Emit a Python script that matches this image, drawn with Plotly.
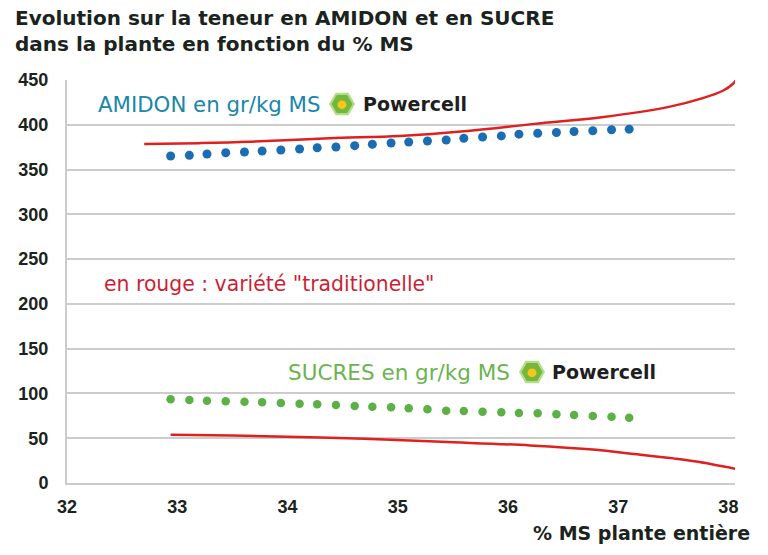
import math
import plotly.graph_objects as go

# ---------------- data ----------------
ms_dots = [32.94, 33.11, 33.27, 33.44, 33.61, 33.77, 33.94, 34.11, 34.27, 34.44,
           34.61, 34.77, 34.94, 35.10, 35.27, 35.44, 35.60, 35.77, 35.94, 36.10,
           36.27, 36.44, 36.60, 36.77, 36.94, 37.10]
amidon_powercell = [365.1, 365.9, 367.4, 368.8, 369.6, 370.7, 371.8, 372.9, 374.4, 375.2,
                    376.7, 378.2, 379.6, 380.8, 381.9, 383.0, 384.9, 386.3, 387.6, 389.5,
                    390.6, 391.4, 392.5, 393.3, 394.4, 395.1]
sucres_powercell = [93.5, 92.7, 91.9, 91.2, 90.8, 90.1, 89.3, 88.5, 87.9, 87.1,
                    86.0, 85.2, 84.5, 83.4, 82.3, 80.7, 80.4, 79.6, 78.9, 78.2,
                    77.8, 76.7, 75.9, 74.8, 74.0, 72.9]

ms_amidon_trad = [32.70, 33.20, 33.66, 34.38, 35.02, 35.63, 36.24, 36.85, 37.46, 37.76, 37.95, 38.04, 38.07]
amidon_trad = [378.5, 379.5, 381.0, 385.0, 387.5, 393.0, 401.0, 408.5, 420.0, 429.5, 438.0, 445.5, 450.0]

ms_sucre_trad = [32.94, 33.50, 34.10, 34.70, 35.40, 36.20, 36.80, 37.10, 37.50, 37.71, 38.06]
sucre_trad = [54.0, 53.0, 51.5, 49.5, 46.0, 42.0, 37.0, 33.0, 27.5, 24.0, 16.0]

x_ticks = [32, 33, 34, 35, 36, 37, 38]
y_ticks = [0, 50, 100, 150, 200, 250, 300, 350, 400, 450]

title_lines = ["Evolution sur la teneur en AMIDON et en SUCRE",
               "dans la plante en fonction du % MS"]
x_title = "% MS plante entière"
label_amidon = "AMIDON en gr/kg MS"
label_sucres = "SUCRES en gr/kg MS"
label_rouge = "en rouge : variété \"traditionelle\""
brand = "Powercell"

# ---------------- styles ----------------
RED = "#e0201e"
BLUE = "#1a6db3"
GREEN = "#5cb046"
TXT_BLUE = "#1a86a8"
TXT_GREEN = "#6cb34f"
TXT_RED = "#cc1f36"
DARK = "#1b231d"
GRID = "#cccccc"
SANS = "Liberation Sans, Arial, Helvetica, sans-serif"
WIDE = "DejaVu Sans, Verdana, sans-serif"

fig = go.Figure()
fig.add_trace(go.Scatter(x=ms_amidon_trad, y=amidon_trad, mode="lines",
                         line=dict(color=RED, width=2.5, shape="spline"), hoverinfo="skip"))
fig.add_trace(go.Scatter(x=ms_sucre_trad, y=sucre_trad, mode="lines",
                         line=dict(color=RED, width=2.5, shape="spline"), hoverinfo="skip"))
fig.add_trace(go.Scatter(x=ms_dots, y=amidon_powercell, mode="markers",
                         marker=dict(color=BLUE, size=9), hoverinfo="skip"))
fig.add_trace(go.Scatter(x=ms_dots, y=sucres_powercell, mode="markers",
                         marker=dict(color=GREEN, size=8.5), hoverinfo="skip"))

L, R, T, B = 67, 33, 80, 72
PW, PH = 768 - L - R, 555 - T - B


def px(xp):
    return (xp - L) / PW


def py(yp):
    return (555 - B - yp) / PH


ann = []
shapes = []


def add_text(text, xp, yp, color, size, family=WIDE, xanchor="left", bold=False):
    ann.append(dict(text=f"<b>{text}</b>" if bold else text, x=px(xp), y=py(yp),
                    xref="paper", yref="paper", xanchor=xanchor, yanchor="middle",
                    showarrow=False, font=dict(color=color, size=size, family=family)))


def hexagon(cx, cy, r, color):
    pts = []
    for k in range(6):
        a = math.radians(60 * k)
        pts.append((px(cx + r * math.cos(a)), py(cy + r * math.sin(a))))
    path = "M " + " L ".join(f"{x:.5f},{y:.5f}" for x, y in pts) + " Z"
    shapes.append(dict(type="path", path=path, xref="paper", yref="paper",
                       fillcolor=color, line=dict(width=0), layer="above"))


def add_logo(cx, cy, text_left):
    hexagon(cx, cy, 13, "#b5dc8c")
    hexagon(cx, cy, 10.5, "#74b83a")
    shapes.append(dict(type="circle", xref="paper", yref="paper",
                       x0=px(cx - 4.5), x1=px(cx + 4.5), y0=py(cy + 5), y1=py(cy - 3.5),
                       fillcolor="#f7c51c", line=dict(width=0), layer="above"))
    add_text(brand, text_left, cy, "#1e1e1e", 19, bold=True)


# title (two lines)
add_text(title_lines[0], 13, 18, DARK, 20, bold=True)
add_text(title_lines[1], 13, 44, DARK, 20, bold=True)

add_text(label_amidon, 96, 104, TXT_BLUE, 21.3)
add_logo(342, 104, 361)
add_text(label_sucres, 286, 372, TXT_GREEN, 21.5)
add_logo(532, 372, 550)
add_text(label_rouge, 102, 284, TXT_RED, 20.4)
add_text(x_title, 752, 533, DARK, 19, xanchor="right", bold=True)

fig.update_layout(
    width=768, height=555,
    margin=dict(l=L, r=R, t=T, b=B),
    paper_bgcolor="white", plot_bgcolor="white",
    showlegend=False,
    annotations=ann,
    shapes=shapes,
    xaxis=dict(range=[32, 38.06], tickvals=x_ticks, ticktext=[f"<b>{v}</b>" for v in x_ticks],
               showgrid=False, zeroline=False, showline=True, linecolor=GRID, linewidth=2,
               ticks="", ticklabelstandoff=6,
               tickfont=dict(size=18, color=DARK, family=SANS)),
    yaxis=dict(range=[0, 450], tickvals=y_ticks, ticktext=[f"<b>{v}</b>" for v in y_ticks],
               showgrid=True, gridcolor=GRID, gridwidth=2, zeroline=False,
               showline=True, linecolor=GRID, linewidth=2,
               ticks="", ticklabelstandoff=13,
               tickfont=dict(size=18, color=DARK, family=SANS)),
)

fig.write_html("out.html")
